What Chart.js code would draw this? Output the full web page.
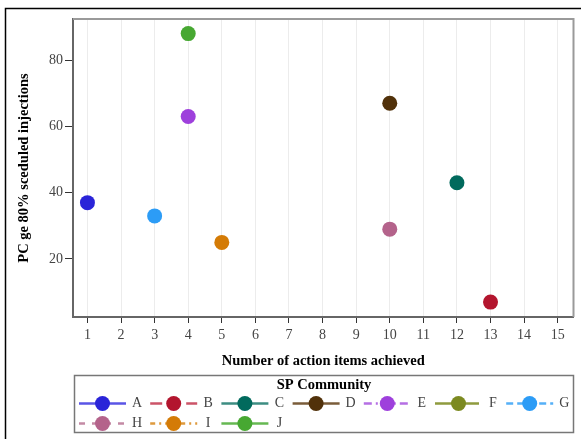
<!DOCTYPE html>
<html><head><meta charset="utf-8">
<script src="https://cdn.jsdelivr.net/npm/chart.js@4"></script>
<style>html,body{margin:0;padding:0;background:#fff;}#wrap{width:581px;height:439px;position:relative;}</style>
</head><body><div id="wrap"><canvas id="c" width="581" height="439"></canvas></div>
<script>
// ---- data ----
const communities = ['A','B','C','D','E','F','G','H','I','J'];
const actionItems = [1, 13, 12, 10, 4, null, 3, 10, 5, 4];
const pcScheduled = [37, 7, 43, 67, 63, null, 33, 29, 25, 88];
const xTickValues = [1,2,3,4,5,6,7,8,9,10,11,12,13,14,15];
const yTickValues = [20,40,60,80];
const xTitle = 'Number of action items achieved';
const yTitle = 'PC ge 80% sceduled injections';
const legendTitle = 'SP Community';

// ---- styles ----
const markerColors = ['#2a24d8','#b3152e','#016a5d','#51310a','#9e40dc','#7c8a21','#2c9cf6','#b4638b','#d47b06','#47a832'];
const lineColors   = ['#5a55e6','#cc5468','#3d8d82','#7a5c3a','#b56fe4','#8f9b3e','#55b0f7','#c48aa5','#de9a3e','#66b852'];
const lineDashes   = [[], [12,6], [], [], [8,4,2,4], [20,4], [7,4], [6,7], [5,4,2,4], []];
const FONT = "'Liberation Serif', 'Times New Roman', serif";

const datasets = communities.map((c, i) => ({
  label: c,
  data: actionItems[i] == null ? [] : [{x: actionItems[i], y: pcScheduled[i]}],
  backgroundColor: markerColors[i],
  borderColor: markerColors[i],
  pointRadius: 7.5,
  pointBorderWidth: 0,
  pointHoverRadius: 7.5,
  showLine: false
}));

const framePlugin = {
  id: 'frame',
  beforeDraw(chart) {
    const ctx = chart.ctx;
    ctx.save();
    ctx.fillStyle = '#fff';
    ctx.fillRect(0, 0, chart.width, chart.height);
    ctx.restore();
  },
  afterDraw(chart) {
    const ctx = chart.ctx, a = chart.chartArea;
    ctx.save();
    // top/right plot frame
    ctx.strokeStyle = '#9a9a9a'; ctx.lineWidth = 2;
    ctx.beginPath();
    ctx.moveTo(a.left, a.top); ctx.lineTo(a.right, a.top); ctx.lineTo(a.right, a.bottom);
    ctx.stroke();
    // outer border
    ctx.strokeStyle = '#000'; ctx.lineWidth = 1.5;
    ctx.strokeRect(5.5, 8.5, 700, 600);
    // legend box
    const bx = 74.5, by = 375.5, bw = 499, bh = 57;
    ctx.strokeStyle = '#777'; ctx.lineWidth = 1.5;
    ctx.strokeRect(bx, by, bw, bh);
    ctx.fillStyle = '#000';
    ctx.font = 'bold 14.5px ' + FONT;
    ctx.textAlign = 'center'; ctx.textBaseline = 'middle';
    ctx.fillText(legendTitle, bx + bw / 2, 385);
    chart.data.datasets.forEach((ds, i) => {
      const row = i < 7 ? 0 : 1, col = i < 7 ? i : i - 7;
      const x0 = 79 + col * 71.2;
      const y = row === 0 ? 403.5 : 423.5;
      ctx.setLineDash(lineDashes[i]);
      ctx.strokeStyle = lineColors[i]; ctx.lineWidth = 2.5;
      ctx.beginPath(); ctx.moveTo(x0, y); ctx.lineTo(x0 + 47, y); ctx.stroke();
      ctx.setLineDash([]);
      ctx.fillStyle = markerColors[i];
      ctx.beginPath(); ctx.arc(x0 + 23.5, y, 7.5, 0, Math.PI * 2); ctx.fill();
      ctx.fillStyle = '#444';
      ctx.font = '14px ' + FONT;
      ctx.textAlign = 'center';
      ctx.fillText(ds.label, x0 + 58, y);
    });
    ctx.restore();
  }
};

new Chart(document.getElementById('c'), {
  type: 'scatter',
  data: { datasets },
  plugins: [framePlugin],
  options: {
    responsive: false,
    animation: false,
    devicePixelRatio: 1,
    events: [],
    layout: { padding: { top: 19, right: 5, bottom: 68, left: 0 } },
    plugins: { legend: { display: false }, tooltip: { enabled: false } },
    scales: {
      x: {
        type: 'linear', min: 0.57, max: 15.47,
        afterBuildTicks: s => { s.ticks = xTickValues.map(v => ({ value: v })); },
        afterFit: s => { s.height = 54; },
        grid: { color: '#ececec', lineWidth: 1, drawTicks: true, tickLength: 6, tickColor: '#333', tickWidth: 1 },
        border: { color: '#666', width: 2 },
        ticks: { color: '#444', font: { family: FONT, size: 14 }, padding: 4, maxRotation: 0, autoSkip: false },
        title: { display: true, text: xTitle, color: '#000', font: { family: FONT, size: 14.5, weight: 'bold' }, padding: { top: 0, bottom: 1 } }
      },
      y: {
        type: 'linear', min: 2.5, max: 92.4,
        afterBuildTicks: s => { s.ticks = yTickValues.map(v => ({ value: v })); },
        afterFit: s => { s.width = 73; },
        grid: { drawOnChartArea: false, drawTicks: true, tickLength: 8, tickColor: '#333', tickWidth: 1 },
        border: { color: '#666', width: 2 },
        ticks: { color: '#444', font: { family: FONT, size: 14 }, padding: 2 },
        title: { display: true, text: yTitle, color: '#000', font: { family: FONT, size: 14.5, weight: 'bold' }, padding: { top: 16, bottom: 0 } }
      }
    }
  }
});
</script></body></html>
